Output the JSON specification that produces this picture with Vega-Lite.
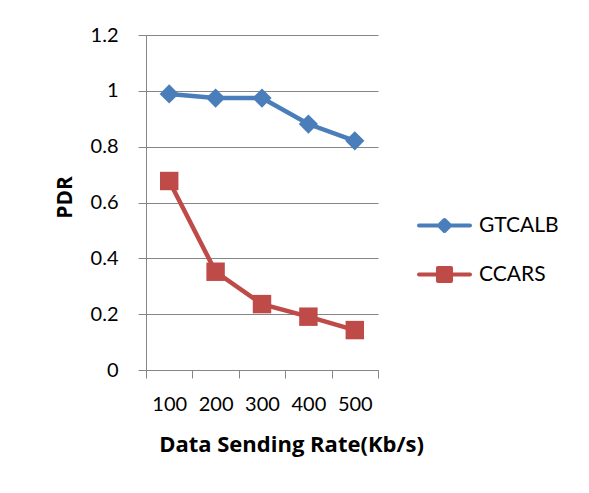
{
  "$schema": "https://vega.github.io/schema/vega-lite/v6.json",
  "width": 232,
  "height": 335,
  "autosize": {"type": "none"},
  "padding": {"left": 146, "top": 35, "right": 211, "bottom": 123},
  "background": "white",
  "config": {
    "view": {"stroke": null},
    "font": "Lato"
  },
  "data": {
    "values": [
      {"rate": "100", "series": "GTCALB", "pdr": 0.989},
      {"rate": "200", "series": "GTCALB", "pdr": 0.974},
      {"rate": "300", "series": "GTCALB", "pdr": 0.974},
      {"rate": "400", "series": "GTCALB", "pdr": 0.881},
      {"rate": "500", "series": "GTCALB", "pdr": 0.821},
      {"rate": "100", "series": "CCARS", "pdr": 0.677},
      {"rate": "200", "series": "CCARS", "pdr": 0.352},
      {"rate": "300", "series": "CCARS", "pdr": 0.236},
      {"rate": "400", "series": "CCARS", "pdr": 0.191},
      {"rate": "500", "series": "CCARS", "pdr": 0.143}
    ]
  },
  "encoding": {
    "x": {
      "field": "rate",
      "type": "ordinal",
      "scale": {"type": "band", "paddingInner": 0, "paddingOuter": 0},
      "title": "Data Sending Rate(Kb/s)",
      "axis": {
        "tickBand": "extent",
        "labelAngle": 0,
        "grid": false,
        "domainColor": "#868686",
        "tickColor": "#868686",
        "tickSize": 8,
        "labelFont": "Lato",
        "labelFontSize": 20,
        "labelColor": "black",
        "labelPadding": 16,
        "titleFont": "Open Sans",
        "titleFontSize": 22,
        "titleFontWeight": "bold",
        "titleColor": "black",
        "titlePadding": 20,
        "titleX": 145,
        "titleAlign": "center"
      }
    },
    "y": {
      "field": "pdr",
      "type": "quantitative",
      "scale": {"domain": [0, 1.2], "nice": false, "zero": true},
      "title": "PDR",
      "axis": {
        "values": [0, 0.2, 0.4, 0.6, 0.8, 1, 1.2],
        "format": "~g",
        "grid": true,
        "gridColor": "#868686",
        "domainColor": "#868686",
        "tickColor": "#868686",
        "tickSize": 8,
        "labelFont": "Lato",
        "labelFontSize": 20,
        "labelColor": "black",
        "labelPadding": 20,
        "titleFont": "Open Sans",
        "titleFontSize": 21,
        "titleFontWeight": "bold",
        "titleColor": "black",
        "titlePadding": 15,
        "titleY": 162
      }
    }
  },
  "layer": [
    {
      "mark": {"type": "line", "strokeWidth": 4.5},
      "encoding": {
        "color": {
          "field": "series",
          "type": "nominal",
          "scale": {"domain": ["GTCALB", "CCARS"], "range": ["#4A7EBB", "#BE4B48"]},
          "legend": {
            "title": null,
            "orient": "none",
            "legendX": 288,
            "legendY": 180,
            "labelFont": "Lato",
            "labelFontSize": 21,
            "labelColor": "black",
            "symbolSize": 225,
            "labelOffset": 24,
            "rowPadding": 27,
            "symbolOffset": 0,
            "encode": {
              "symbols": {
                "update": {
                  "shape": {"signal": "datum.value === 'GTCALB' ? 'M-3.4,0L-0.73,0L0,-0.73L0.73,0L3.4,0L0.73,0L0,0.73L-0.73,0Z' : 'M-3.4,0L-0.87,0L-0.87,-0.87L0.87,-0.87L0.87,0L3.4,0L0.87,0L0.87,0.87L-0.87,0.87L-0.87,0Z'"},
                  "fill": {"signal": "datum.value === 'GTCALB' ? '#4A7EBB' : '#BE4B48'"},
                  "stroke": {"signal": "datum.value === 'GTCALB' ? '#4A7EBB' : '#BE4B48'"},
                  "strokeWidth": {"value": 4},
                  "strokeJoin": {"value": "round"},
                  "strokeCap": {"value": "round"},
                  "opacity": {"value": 1},
                  "fillOpacity": {"value": 1},
                  "strokeOpacity": {"value": 1}
                }
              }
            }
          }
        }
      }
    },
    {
      "transform": [{"filter": "datum.series === 'GTCALB'"}],
      "mark": {"type": "point", "shape": "diamond", "filled": true, "size": 370, "opacity": 1, "color": "#4A7EBB"}
    },
    {
      "transform": [{"filter": "datum.series === 'CCARS'"}],
      "mark": {"type": "point", "shape": "square", "filled": true, "size": 340, "opacity": 1, "color": "#BE4B48"}
    }
  ]
}
